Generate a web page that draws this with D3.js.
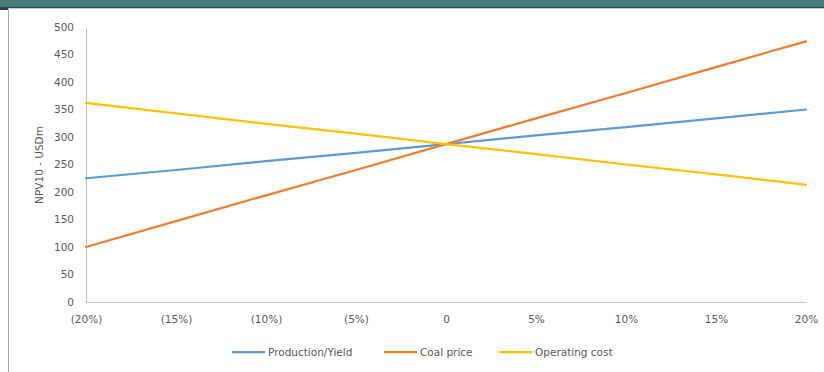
<!DOCTYPE html>
<html><head><meta charset="utf-8">
<script src="https://cdn.jsdelivr.net/npm/d3@7"></script>
<style>
html,body{margin:0;padding:0;background:#fff;}
svg{display:block;}
text{font-family:"DejaVu Sans",sans-serif;fill:#595959;}
</style></head>
<body>
<svg id="chart" width="824" height="372"></svg>
<script>
const categories = ["(20%)","(15%)","(10%)","(5%)","0","5%","10%","15%","20%"];
const productionYield = [225, 240, 256, 271, 287, 303, 318, 334, 350];
const coalPrice = [100, 147, 194, 240, 287, 334, 380, 427, 474];
const operatingCost = [362, 343, 324, 306, 287, 269, 250, 232, 213];
const yTicks = [0,50,100,150,200,250,300,350,400,450,500];
const seriesNames = ["Production/Yield","Coal price","Operating cost"];
const seriesColors = ["#5B9BD5","#ED7D31","#FFC000"];

const series = [productionYield, coalPrice, operatingCost].map((v,i)=>({name:seriesNames[i], color:seriesColors[i], values:v}));

const svg = d3.select("#chart");
// frame decorations
svg.append("rect").attr("x",0).attr("y",0).attr("width",824).attr("height",7).attr("fill","#497978");
svg.append("rect").attr("x",0).attr("y",7).attr("width",824).attr("height",1).attr("fill","#1f4a52");
svg.append("rect").attr("x",0).attr("y",8).attr("width",824).attr("height",1).attr("fill","#c8c8c8");
svg.append("rect").attr("x",0).attr("y",8).attr("width",8).attr("height",2).attr("fill","#1f3f6f");
svg.append("rect").attr("x",8).attr("y",9).attr("width",1).attr("height",363).attr("fill","#a6a6a6");

const x = d3.scalePoint().domain(categories).range([86, 806]);
const y = d3.scaleLinear().domain([0, 500]).range([302, 27]);

// axes
const yAxis = svg.append("g").attr("transform","translate(86,0)")
  .call(d3.axisLeft(y).tickValues(yTicks).tickSize(0).tickPadding(12));
yAxis.select(".domain").attr("stroke","#bfbfbf");
yAxis.selectAll("text").attr("font-size","10.5px").attr("fill","#595959");

const xAxis = svg.append("g").attr("transform","translate(0,302)")
  .call(d3.axisBottom(x).tickSize(0).tickPadding(14));
xAxis.select(".domain").attr("stroke","#bfbfbf");
xAxis.selectAll("text").attr("font-size","10.5px").attr("fill","#595959");

// y title
svg.append("text").attr("transform","translate(43,165) rotate(-90)")
  .attr("text-anchor","middle").attr("font-size","10.5px").text("NPV10 - USDm");

// lines
const line = d3.line().x((d,i)=>x(categories[i])).y(d=>y(d));
svg.append("g").selectAll("path").data(series).join("path")
  .attr("d", d=>line(d.values)).attr("fill","none")
  .attr("stroke", d=>d.color).attr("stroke-width",2.25).attr("stroke-linecap","round");

// legend
const legendX = [232, 384, 499];
const lg = svg.append("g").selectAll("g").data(series).join("g")
  .attr("transform",(d,i)=>`translate(${legendX[i]},352)`);
lg.append("line").attr("x1",0).attr("x2",33).attr("y1",0).attr("y2",0)
  .attr("stroke",d=>d.color).attr("stroke-width",2.25);
lg.append("text").attr("x",36).attr("y",4).attr("font-size","10.5px").text(d=>d.name);
</script>
</body></html>
